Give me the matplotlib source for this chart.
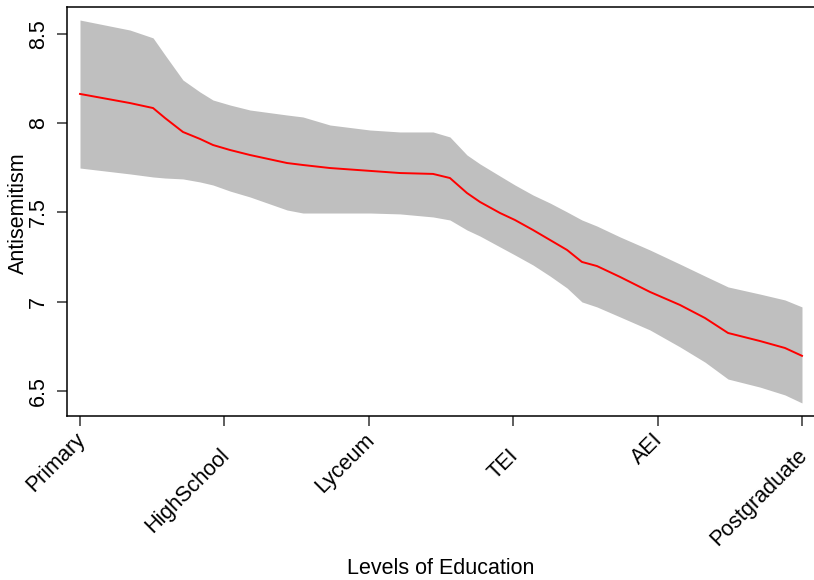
import matplotlib
matplotlib.use("Agg")
import matplotlib.pyplot as plt
import matplotlib.transforms as mtransforms

plt.rcParams['font.family'] = ['Liberation Sans', 'DejaVu Sans']

categories = ["Primary", "HighSchool", "Lyceum", "TEI", "AEI", "Postgraduate"]
yticks = [6.5, 7, 7.5, 8, 8.5]
ytick_labels = ["6.5", "7", "7.5", "8", "8.5"]

x = [0.000, 0.346, 0.506, 0.589, 0.713, 0.831, 0.921, 1.039, 1.177, 1.434,
     1.544, 1.731, 2.008, 2.216, 2.445, 2.562, 2.680, 2.770, 2.909, 3.012,
     3.137, 3.255, 3.373, 3.476, 3.580, 3.740, 3.947, 4.155, 4.328, 4.488,
     4.709, 4.882, 5.000]
fit = [8.164, 8.113, 8.085, 8.029, 7.951, 7.912, 7.878, 7.850, 7.822, 7.777,
       7.766, 7.749, 7.733, 7.721, 7.716, 7.693, 7.609, 7.559, 7.497, 7.458,
       7.402, 7.346, 7.290, 7.223, 7.200, 7.139, 7.055, 6.982, 6.909, 6.825,
       6.780, 6.741, 6.697]
upper = [8.578, 8.522, 8.478, 8.382, 8.242, 8.175, 8.130, 8.102, 8.074, 8.046,
         8.035, 7.990, 7.962, 7.951, 7.951, 7.923, 7.822, 7.772, 7.704, 7.654,
         7.598, 7.553, 7.503, 7.458, 7.424, 7.363, 7.290, 7.211, 7.144, 7.083,
         7.043, 7.010, 6.971]
lower = [7.749, 7.716, 7.699, 7.693, 7.688, 7.671, 7.654, 7.620, 7.587, 7.514,
         7.497, 7.497, 7.497, 7.492, 7.475, 7.458, 7.402, 7.368, 7.307, 7.262,
         7.206, 7.144, 7.077, 6.999, 6.971, 6.915, 6.842, 6.747, 6.662, 6.567,
         6.522, 6.478, 6.433]

fig = plt.figure(figsize=(8.14, 5.8), dpi=100)
ax = fig.add_axes([67/814, 1 - 416/580, (817 - 67)/814, (416 - 7)/580])

ax.fill_between(x, lower, upper, color='#BFBFBF', linewidth=0)
ax.plot(x, fit, color='#FF0000', linewidth=1.4)

ax.set_xlim(-0.09, 5.104)
ax.set_ylim(6.36, 8.651)

for s in ax.spines.values():
    s.set_linewidth(1.1)
    s.set_color('black')

ax.set_yticks(yticks)
ax.set_yticklabels(ytick_labels, fontsize=15.5)
for lab in ax.get_yticklabels():
    lab.set_rotation(90)
    lab.set_va('center')
    lab.set_ha('right')
ax.tick_params(axis='y', length=7, width=1.1, pad=6, color='#333333')

ax.set_xticks(range(len(categories)))
ax.set_xticklabels([])
ax.tick_params(axis='x', length=7, width=1.1, color='#333333')

trans_base = ax.get_xaxis_transform()
for i, cat in enumerate(categories):
    dy = 13 if i % 2 == 0 else 29
    off = mtransforms.ScaledTranslation(-5/100, -dy/100, fig.dpi_scale_trans)
    ax.text(i, 0, cat, transform=trans_base + off, rotation=45,
            rotation_mode='anchor', ha='right', va='top', fontsize=15.5)

fig.text(441/814, 1 - 568/580, "Levels of Education", ha='center', va='center', fontsize=15.5)
fig.text(18/814, 1 - 213/580, "Antisemitism", ha='center', va='center', rotation=90, fontsize=15.5)

fig.savefig("out.png", dpi=100)
